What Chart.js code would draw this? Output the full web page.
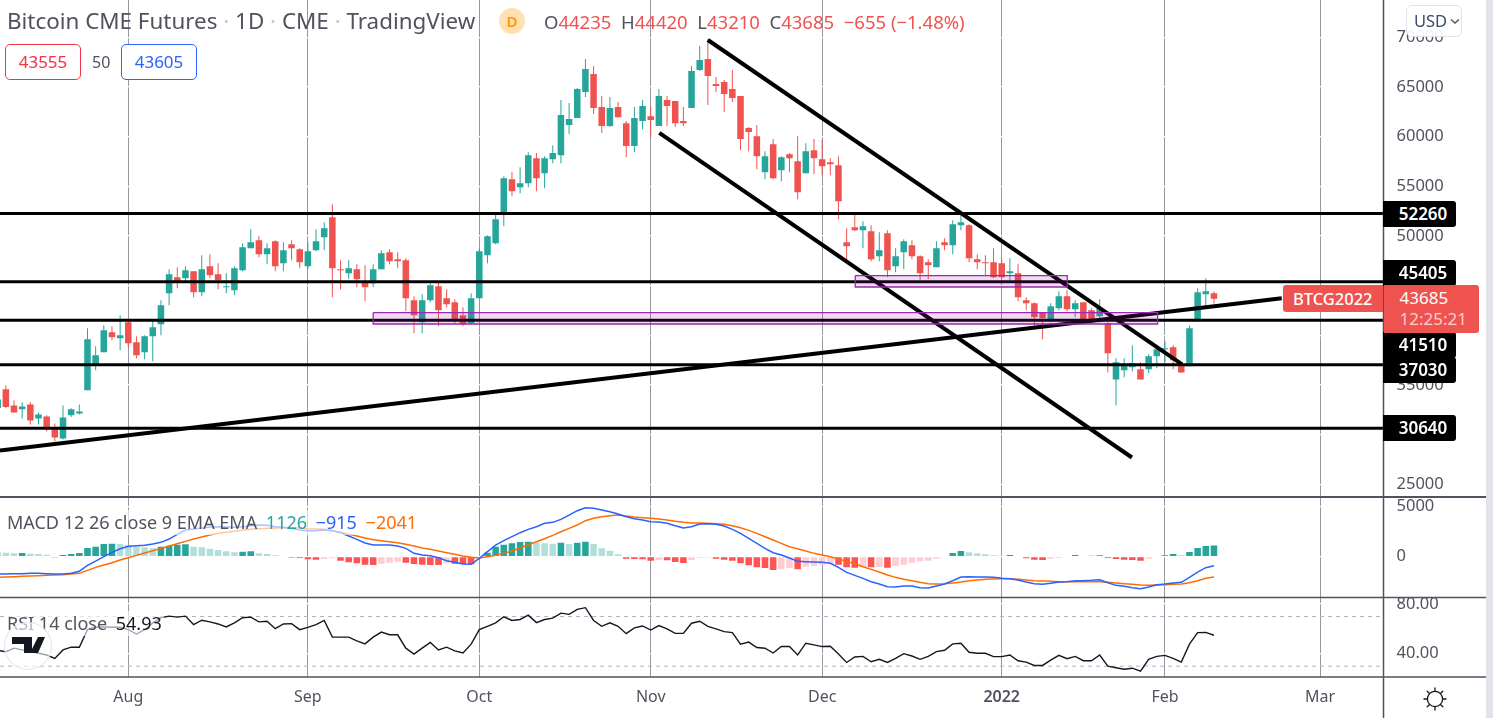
<!DOCTYPE html>
<html>
<head>
<meta charset="utf-8">
<title>Bitcoin CME Futures</title>
<script src="https://cdn.jsdelivr.net/npm/chart.js@4"></script>
<style>
  html, body { margin: 0; padding: 0; height: 718px; overflow: hidden; background: #e0e3eb; }
  body { font-family: "Noto Sans", sans-serif; color: #50535e; }
  #wrap { position: absolute; left: 0; top: 0; width: 1486px; height: 718px; background: #fff; }
  canvas { position: absolute; left: 0; top: 0; }
  .txt { position: absolute; white-space: nowrap; }
  .box { position: absolute; box-sizing: border-box; border: 1px solid; border-radius: 5px; background: #fff;
         text-align: center; font-size: 17px; line-height: 34px; height: 36px; top: 44px; width: 76px; }
  .chip { position: absolute; left: 1383px; width: 73px; height: 26px; box-sizing: border-box; padding-left: 7px; background: #000; color: #fff; border-radius: 0 3px 3px 0;
          font-size: 17px; font-weight: 600; line-height: 26px; text-align: center; }
  .legend { position: absolute; left: 5px; white-space: nowrap; font-size: 18px; background: rgba(255,255,255,.62); height: 25px; line-height: 25px; padding: 0 2px; }
  .legend span { margin-left: 4px; }
  .red { color: #ef5350; }
</style>
</head>
<body>
<div id="wrap">
  <canvas id="chart" width="1486" height="718"></canvas>

  <div class="txt" style="left:7px;top:5px;font-size:22.4px;line-height:31px;">Bitcoin CME Futures <span style="color:#c3c6d0">·</span> 1D <span style="color:#c3c6d0">·</span> CME <span style="color:#c3c6d0">·</span> TradingView</div>
  <div class="txt" style="left:499px;top:8px;width:26px;height:26px;border-radius:13px;background:#ffe0b2;color:#ff9800;font-size:15px;font-weight:600;line-height:26px;text-align:center;">D</div>
  <div class="txt" style="left:544px;top:8px;font-size:18.5px;line-height:27px;">O<span class="red">44235</span> &nbsp;H<span class="red">44420</span> &nbsp;L<span class="red">43210</span> &nbsp;C<span class="red">43685</span> &nbsp;<span class="red">−655 (−1.48%)</span></div>

  <div class="box" style="left:5px;border-color:#f23645;color:#f23645;">43555</div>
  <div class="txt" style="left:92px;top:49px;font-size:16px;line-height:26px;">50</div>
  <div class="box" style="left:121px;border-color:#2962ff;color:#2962ff;">43605</div>

  <div class="txt" style="left:1406px;top:5px;width:56px;height:32px;box-sizing:border-box;border:1px solid #e0e3eb;border-radius:6px;background:rgba(255,255,255,.92);color:#3b4a6b;font-size:16.5px;line-height:30px;padding-left:7px;">USD<svg width="10" height="7" style="margin-left:3px;vertical-align:2px" viewBox="0 0 10 7"><path d="M1 1.5 L5 5 L9 1.5" fill="none" stroke="#50535e" stroke-width="1.4"/></svg></div>

  <div class="legend" style="top:510px;">MACD 12 26 close 9 EMA EMA <span style="color:#26a69a">1126</span> <span style="color:#2962ff">−915</span> <span style="color:#ff6d00">−2041</span></div>
  <div class="legend" style="top:611px;">RSI 14 close <span style="color:#131722">54.93</span></div>

  <svg style="position:absolute;left:4px;top:621px" width="50" height="50" viewBox="0 0 50 50">
    <circle cx="24" cy="25" r="23.5" fill="rgba(255,255,255,.6)" stroke="#e6e8ee" stroke-width="1.2"/>
    <path d="M8 16 H28 V32 H20 V23 H8 Z M34 16 H41 L34 32 H26 Z" fill="#131722"/>
  </svg>

  <svg style="position:absolute;left:1422px;top:686px" width="26" height="26" viewBox="0 0 26 26">
    <circle cx="13" cy="13" r="7.6" fill="none" stroke="#131722" stroke-width="1.3"/>
    <path d="M13 2 V5 M13 21 V24 M2 13 H5 M21 13 H24 M5.2 5.2 L7.3 7.3 M18.7 18.7 L20.8 20.8 M20.8 5.2 L18.7 7.3 M7.3 18.7 L5.2 20.8" stroke="#131722" stroke-width="1.3" stroke-linecap="round"/>
  </svg>

  <div id="chips"></div>
</div>

<script>
const opens = [
  32675, 34560, 32945, 32545, 33045, 31635, 31835, 30730, 29620, 31940,
  32140, 34460, 37080, 38290, 40305, 39700, 41310, 39295, 38290, 39900,
  41110, 44235, 45850, 45750, 46455, 44335, 46955, 46150, 44840, 44540,
  46555, 48770, 49580, 48165, 49475, 47260, 49175, 48670, 46955, 48570,
  49880, 51895, 46655, 46250, 46655, 45345, 45245, 46655, 48370, 47665,
  47560, 43530, 41310, 43530, 44940, 43730, 43330, 42020, 41210, 43730,
  48065, 49275, 52200, 55725, 54920, 55325, 57845, 56330, 57745, 58145,
  61170, 61875, 64495, 66310, 62985, 61070, 62985, 61370, 59055, 61575,
  62075, 61070, 63690, 63590, 61575, 62885, 66715, 67825, 65305, 65505,
  64800, 64095, 60870, 60060, 56430, 59255, 56635, 58245, 57540, 56330,
  58650, 57745, 57440, 57140, 49375, 50890, 50585, 50485, 47965, 50285,
  46955, 48370, 49075, 47965, 47360, 46855, 49375, 49075, 51090, 51090,
  47665, 47360, 47360, 47260, 46250, 46250, 43530, 43230, 42320, 41615,
  42725, 43935, 42625, 43330, 42520, 41915, 41210, 35565, 36475, 36775,
  36575, 36575, 37885, 38590, 38790, 37080, 36875, 41415, 44135, 44235,
];
const highs = [
  33550, 34960, 33450, 33250, 33250, 32240, 31940, 31130, 32945, 32645,
  33045, 40710, 38895, 41010, 40910, 42020, 41615, 39900, 40000, 41615,
  43530, 46655, 46855, 46955, 46455, 48065, 48165, 47260, 46250, 46955,
  49275, 50685, 49980, 49275, 49580, 49375, 49580, 48770, 49375, 50685,
  51390, 53205, 47560, 47560, 47160, 47060, 47160, 48570, 48670, 48370,
  47765, 43935, 44135, 45245, 45445, 44640, 43630, 42825, 44235, 48770,
  50080, 52300, 56030, 56430, 56935, 58450, 58350, 58045, 59155, 63690,
  63390, 64900, 67825, 67115, 64095, 63990, 63490, 61575, 62985, 63690,
  62985, 64800, 64095, 63590, 62985, 67115, 69135, 69840, 66010, 65705,
  66715, 64095, 60970, 61170, 58550, 59760, 58045, 58350, 60060, 59355,
  59760, 59660, 57845, 58045, 50790, 52300, 51495, 51090, 50385, 50585,
  48770, 49680, 49580, 48065, 47665, 49475, 49780, 51595, 52300, 51190,
  48165, 48065, 48770, 47765, 47765, 47160, 43830, 43330, 42320, 43230,
  44435, 44540, 43530, 43330, 42725, 43630, 41310, 37685, 37685, 38995,
  37280, 38085, 38995, 39395, 38995, 37080, 41010, 44740, 45750, 44420,
];
const lows = [
  32675, 32675, 32240, 31635, 31030, 31030, 30325, 29315, 29520, 31770,
  32040, 34460, 36475, 38290, 39500, 38490, 38790, 37685, 37585, 37380,
  40000, 43025, 44740, 45345, 43830, 43935, 45750, 44640, 44235, 44035,
  46455, 48770, 47865, 47160, 46455, 46455, 47560, 46755, 46655, 48470,
  48570, 43830, 44640, 45645, 44840, 43430, 44840, 46655, 47160, 46755,
  42420, 40205, 40205, 43330, 40910, 42825, 41210, 40910, 41110, 43730,
  47260, 49175, 50990, 54015, 54315, 54920, 54515, 54820, 57340, 57340,
  60265, 61875, 63990, 62280, 60365, 60970, 61975, 57945, 58450, 60765,
  59860, 61070, 61070, 60970, 61070, 62885, 66615, 63185, 64495, 62480,
  63490, 58650, 58550, 56735, 55725, 55725, 55525, 56430, 53710, 56330,
  56230, 56130, 56130, 51695, 47360, 50485, 48770, 47460, 47460, 45850,
  46350, 46655, 47665, 45545, 45645, 46855, 48570, 48165, 50585, 47360,
  46655, 46050, 45750, 45750, 45545, 43430, 42520, 40605, 39600, 41310,
  42520, 42420, 41815, 41310, 41210, 41310, 36270, 32945, 35770, 36375,
  35565, 36170, 36675, 37280, 36575, 36270, 36875, 41415, 42925, 43210,
];
const closes = [
  33550, 32780, 32240, 32845, 31435, 32040, 30630, 29720, 31735, 32545,
  32340, 39600, 37985, 40505, 39800, 40000, 39195, 37985, 39900, 40810,
  43025, 46150, 45445, 46555, 44335, 46655, 46050, 45545, 44940, 46755,
  48870, 49375, 48165, 48770, 46955, 48570, 48770, 47360, 48470, 49475,
  50790, 46755, 46555, 46755, 45645, 44840, 46655, 48270, 47460, 47460,
  43730, 42020, 43530, 45040, 42520, 43125, 41615, 41110, 43730, 48470,
  49980, 51695, 55830, 54515, 55325, 58145, 55830, 57845, 58350, 62180,
  61775, 64800, 66815, 62885, 61070, 62885, 61975, 59055, 61875, 63085,
  61675, 64095, 63085, 61370, 61370, 66615, 67720, 66110, 65100, 64295,
  63890, 59760, 60465, 58045, 58045, 55830, 57945, 57845, 54415, 58550,
  57845, 57035, 57240, 53510, 48975, 50585, 50990, 47665, 48570, 46555,
  47965, 49475, 47965, 46250, 47060, 48770, 49075, 51190, 51390, 47765,
  47360, 47260, 45850, 45850, 46455, 43830, 43230, 41815, 41715, 42925,
  43935, 42625, 43230, 41615, 41615, 42725, 38190, 37280, 36980, 37180,
  35565, 37885, 38590, 38690, 37480, 36270, 40710, 44335, 44435, 43685,
];

const macdHist = [
  435, 400, 335, 365, 300, 265, 200, -35, 165, 265,
  365, 865, 1000, 1265, 1300, 1265, 1165, 1000, 935, 835,
  1000, 1100, 1200, 1235, 1000, 935, 800, 665, 535, 435,
  500, 535, 335, 265, 135, -65, -100, -135, -265, -300,
  -235, -165, -400, -565, -665, -800, -835, -700, -600, -500,
  -600, -735, -800, -825, -840, -665, -700, -735, -765, -100,
  400, 1000, 1200, 1335, 1465, 1500, 1400, 1335, 1300, 1400,
  1265, 1400, 1500, 1265, 835, 600, 235, -200, -235, -265,
  -400, -335, -365, -535, -635, -335, -135, -100, -200, -300,
  -400, -665, -865, -1065, -1135, -1335, -1265, -1135, -1265, -1000,
  -935, -800, -735, -800, -1065, -1100, -1035, -1065, -1035, -1100,
  -935, -800, -600, -465, -400, -200, 65, 365, 565, 435,
  335, 235, 135, 100, 165, -65, -165, -300, -335, -200,
  -135, -65, 165, 65, 100, 135, -135, -235, -300, -335,
  -400, -200, -65, 135, 265, 165, 465, 865, 1065, 1126,
];
const macdLine = [
  -1735, -1735, -1700, -1700, -1665, -1665, -1700, -1735, -1735, -1665,
  -1465, -865, -435, 0, 435, 800, 1035, 1100, 1135, 1265,
  1435, 1765, 2235, 2665, 2765, 2865, 2965, 3000, 2965, 2935,
  3000, 3100, 3165, 3135, 3000, 2935, 2835, 2665, 2600, 2600,
  2665, 2600, 2400, 2065, 1735, 1365, 1165, 1165, 1165, 1065,
  835, 335, 165, 100, -100, -400, -565, -735, -765, -165,
  500, 1165, 1600, 2000, 2400, 2735, 3000, 3335, 3435, 3735,
  4165, 4600, 4900, 4835, 4665, 4500, 4265, 4000, 3800, 3665,
  3500, 3465, 3335, 3100, 2865, 3000, 3265, 3300, 3235, 3065,
  2735, 2335, 1835, 1335, 835, 400, 165, -135, -465, -500,
  -535, -565, -665, -1065, -1565, -1865, -2165, -2500, -2735, -3000,
  -3035, -2935, -2935, -3100, -3135, -2935, -2735, -2400, -2035, -2000,
  -2035, -2035, -2065, -2165, -2200, -2335, -2535, -2700, -2765, -2665,
  -2535, -2500, -2400, -2400, -2365, -2300, -2600, -2865, -2965, -3100,
  -3200, -3035, -2800, -2735, -2635, -2565, -2065, -1535, -1100, -915,
];
const macdSignal = [
  -2065, -2035, -2000, -1965, -1935, -1900, -1865, -1835, -1800, -1735,
  -1665, -1365, -1065, -835, -600, -335, -100, 135, 365, 600,
  835, 1065, 1300, 1535, 1765, 1965, 2165, 2335, 2435, 2535,
  2665, 2735, 2800, 2835, 2865, 2900, 2900, 2865, 2800, 2765,
  2735, 2600, 2435, 2235, 2065, 1865, 1700, 1600, 1500, 1400,
  1235, 1065, 865, 735, 565, 400, 235, 65, -65, -135,
  0, 135, 335, 565, 865, 1200, 1500, 1800, 2135, 2500,
  2835, 3165, 3600, 3835, 4000, 4100, 4165, 4065, 3965, 3900,
  3835, 3765, 3665, 3535, 3435, 3365, 3365, 3335, 3300, 3235,
  3100, 2900, 2635, 2335, 2000, 1665, 1335, 1000, 800, 565,
  335, 165, 0, -235, -465, -700, -1000, -1265, -1535, -1835,
  -2065, -2265, -2400, -2565, -2700, -2735, -2700, -2635, -2535, -2400,
  -2335, -2265, -2235, -2200, -2200, -2265, -2335, -2400, -2435, -2465,
  -2500, -2500, -2500, -2500, -2500, -2500, -2565, -2635, -2700, -2765,
  -2835, -2865, -2835, -2800, -2765, -2735, -2600, -2400, -2165, -2041,
];
const rsiLine = [
  42.8, 41.7, 44.5, 43.1, 41.7, 40.4, 39.0, 36.3, 43.1, 45.3,
  45.3, 59.4, 61.6, 61.6, 61.3, 61.3, 59.4, 55.9, 59.4, 64.9,
  69.0, 70.3, 69.5, 70.3, 63.5, 67.0, 65.7, 64.0, 61.6, 64.9,
  69.0, 69.5, 65.7, 66.2, 60.2, 64.0, 64.3, 59.4, 61.3, 63.5,
  66.8, 53.4, 53.4, 53.4, 50.4, 48.0, 53.4, 57.5, 55.3, 55.3,
  44.5, 39.8, 44.5, 49.1, 43.1, 45.3, 42.3, 40.6, 47.7, 59.4,
  62.1, 64.9, 69.8, 66.8, 67.6, 71.1, 65.1, 67.6, 68.7, 72.7,
  71.7, 75.7, 77.1, 66.8, 62.1, 64.9, 62.1, 56.2, 60.8, 62.4,
  59.1, 62.7, 60.0, 56.4, 56.4, 64.6, 66.2, 62.1, 60.0, 57.8,
  57.0, 47.7, 49.4, 45.0, 44.5, 40.6, 45.8, 45.8, 39.0, 48.5,
  47.2, 45.8, 46.1, 39.8, 33.0, 37.4, 37.9, 33.6, 35.5, 33.0,
  36.3, 40.1, 38.2, 35.5, 37.9, 41.7, 42.8, 48.0, 48.5, 41.2,
  40.4, 40.4, 37.7, 37.7, 39.0, 34.4, 33.3, 30.6, 30.6, 34.9,
  38.7, 36.0, 37.9, 34.4, 34.4, 39.0, 30.0, 28.7, 27.6, 28.4,
  26.0, 35.5, 37.9, 38.7, 36.3, 33.3, 47.7, 57.0, 57.2, 54.93,
];

// horizontal levels and their price-scale chips
const levels = [52260, 45405, 41510, 37030, 30640];
const rsiBands = [70, 30];

// trend lines: [bar position, price]
const longTrend = [[0.283, 28410], [157.3, 43731]];
const channelUpper = [[87.0, 69740], [145.1, 37080]];
const channelLower = [[81.05, 60390], [138.95, 27700]];

// shaded zones: [first bar, last bar, low, high]
const zoneA = [105.06, 131.03, 44870, 46020];
const zoneB = [46.0, 142.1, 41140, 42290];

// axes
const monthBars = [16, 38, 59, 80, 101, 123, 143, 162];
const monthLabels = ['Aug', 'Sep', 'Oct', 'Nov', 'Dec', '2022', 'Feb', 'Mar'];
const priceTicks = [25000, 30000, 35000, 40000, 45000, 50000, 55000, 60000, 65000, 70000];
const macdTicks = [0, 5000];
const rsiTicks = [40, 80];

const COLORS = {
  up: '#26a69a', down: '#ef5350',
  histUp: '#26a69a', histUpFade: '#b2dfdb', histDown: '#ff5252', histDownFade: '#ffcdd2',
  blue: '#2962ff', orange: '#ff6d00',
  axis: '#50535e', grid: '#9598a1', zone: '#9c27b0',
};
const AXIS_WIDTH = 102.5;
const XMIN = 0.283, XMAX = 169.77;

const pts = arr => arr.map((v, i) => ({ x: i, y: v }));
const pairs = arr => arr.map(p => ({ x: p[0], y: p[1] }));
const candleColor = closes.map((c, i) => (c >= opens[i] ? COLORS.up : COLORS.down));

const histColor = macdHist.map((v, i) => {
  const prev = i ? macdHist[i - 1] : Infinity;
  if (v >= 0) return v >= prev ? COLORS.histUp : COLORS.histUpFade;
  return v < prev ? COLORS.histDown : COLORS.histDownFade;
});

function lineSet(data, color, width, yAxisID, extra) {
  return Object.assign({
    type: 'line', data, borderColor: color, borderWidth: width, yAxisID,
    pointRadius: 0, tension: 0, fill: false,
  }, extra || {});
}
function zoneSet(z) {
  const data = [
    { x: z[0], y: z[3] }, { x: z[1], y: z[3] }, { x: z[1], y: z[2] }, { x: z[0], y: z[2] }, { x: z[0], y: z[3] },
  ];
  return lineSet(data, COLORS.zone, 1.3, 'y', { fill: 'shape', backgroundColor: 'rgba(156,39,176,0.16)' });
}
function barSet(data, colors, yAxisID, width) {
  return {
    type: 'bar', data, backgroundColor: colors, yAxisID,
    grouped: false, barPercentage: 1, maxBarThickness: width, borderWidth: 0,
  };
}

const datasets = [
  zoneSet(zoneA),
  zoneSet(zoneB),
  lineSet(pairs(longTrend), '#000', 4, 'y'),
  lineSet(pairs(channelUpper), '#000', 4, 'y'),
  lineSet(pairs(channelLower), '#000', 4, 'y'),
  ...levels.map(l => lineSet([{ x: XMIN, y: l }, { x: XMAX, y: l }], '#000', 3, 'y')),
  barSet(opens.map((o, i) => ({ x: i, y: [o, closes[i]] })), candleColor, 'y', 7),
  barSet(lows.map((l, i) => ({ x: i, y: [l, highs[i]] })), candleColor, 'y', 1),

  lineSet(pts(macdLine), COLORS.blue, 1.5, 'yMacd'),
  lineSet(pts(macdSignal), COLORS.orange, 1.5, 'yMacd'),
  barSet(pts(macdHist), histColor, 'yMacd', 7),

  lineSet(pts(rsiLine), '#131722', 1.4, 'yRsi'),
  ...rsiBands.map(b => lineSet([{ x: XMIN, y: b }, { x: XMAX, y: b }], '#b2b5be', 1, 'yRsi', { borderDash: [4, 4] })),
];

function paneAxis(min, max, ticks, weight, stackWeight, fmt) {
  return {
    type: 'linear', position: 'right', stack: 'panes', weight, stackWeight, min, max,
    afterFit: s => { s.width = AXIS_WIDTH; s.paddingTop = 0; s.paddingBottom = 0; },
    afterBuildTicks: s => { s.ticks = ticks.map(value => ({ value })); },
    border: { display: false },
    grid: { color: '#fff', lineWidth: 1.2, drawTicks: false, z: -1 },
    ticks: {
      color: COLORS.axis, font: { family: 'Noto Sans', size: 16.5 }, padding: 13,
      autoSkip: false, callback: fmt,
    },
  };
}

// pane separators and the price-axis rule
const panelRules = {
  id: 'panelRules',
  afterDatasetsDraw(chart) {
    const { ctx, width, height, scales } = chart;
    const right = chart.chartArea.right;
    ctx.save();
    ctx.strokeStyle = COLORS.axis;
    ctx.lineWidth = 1.5;
    ctx.beginPath();
    ctx.moveTo(right, 0); ctx.lineTo(right, height);
    ctx.moveTo(0, scales.yRsi.top); ctx.lineTo(width, scales.yRsi.top);
    ctx.moveTo(0, scales.yRsi.bottom); ctx.lineTo(width, scales.yRsi.bottom);
    ctx.stroke();
    ctx.lineWidth = 2.2;
    ctx.beginPath();
    ctx.moveTo(0, scales.y.bottom); ctx.lineTo(width, scales.y.bottom);
    ctx.stroke();
    ctx.restore();
  },
};

const chart = new Chart(document.getElementById('chart'), {
  data: { datasets },
  plugins: [panelRules],
  options: {
    responsive: false,
    animation: false,
    layout: { padding: 0 },
    plugins: { legend: { display: false }, tooltip: { enabled: false } },
    scales: {
      x: {
        type: 'linear', min: XMIN, max: XMAX, offset: false,
        afterFit: s => { s.height = 41; s.paddingLeft = 0; s.paddingRight = 0; },
        afterBuildTicks: s => { s.ticks = monthBars.map(value => ({ value })); },
        border: { display: false },
        grid: { color: COLORS.grid, lineWidth: 1, drawTicks: false, offset: false, z: -2 },
        ticks: {
          color: COLORS.axis, padding: 11, autoSkip: false, maxRotation: 0,
          font: c => ({ family: 'Noto Sans', size: 16, weight: c.tick && c.tick.value === 123 ? '600' : '400' }),
          callback: v => monthLabels[monthBars.indexOf(v)],
        },
      },
      y: paneAxis(23720, 73770, priceTicks, 1, 497, v => String(v)),
      yMacd: paneAxis(-4080, 5970, macdTicks, 2, 100.5, v => String(v)),
      yRsi: paneAxis(21.3, 85.3, rsiTicks, 3, 79.5, v => v.toFixed(2)),
    },
  },
});

// price-scale chips follow the scale; crowded ones are nudged as on the original
const chipNudge = [0, -9, 25, 5.5, 0];
const chipHost = document.getElementById('chips');
levels.forEach((l, i) => {
  const d = document.createElement('div');
  d.className = 'chip';
  d.textContent = l;
  d.style.top = (chart.scales.y.getPixelForValue(l) + chipNudge[i] - 13) + 'px';
  chipHost.appendChild(d);
});

const lastY = chart.scales.y.getPixelForValue(closes[closes.length - 1]);
const tag = document.createElement('div');
tag.style.cssText = 'position:absolute;left:1283px;width:99.5px;height:27px;background:#ef5350;color:#fff;border-radius:3px 0 0 3px;font-size:16.5px;font-weight:500;line-height:27px;text-align:center;top:' + (lastY - 14) + 'px';
tag.textContent = 'BTCG2022';
chipHost.appendChild(tag);
const last = document.createElement('div');
last.style.cssText = 'position:absolute;left:1383.5px;width:95px;height:48px;background:#ef5350;color:#fff;border-radius:0 3px 3px 0;font-size:17px;line-height:21px;padding-top:2px;box-sizing:border-box;top:' + (lastY - 14) + 'px';
last.innerHTML = '<div style="padding-left:16px">43685</div><div style="padding-left:16px;color:rgba(255,255,255,.72)">12:25:21</div>';
chipHost.appendChild(last);
</script>
</body>
</html>
